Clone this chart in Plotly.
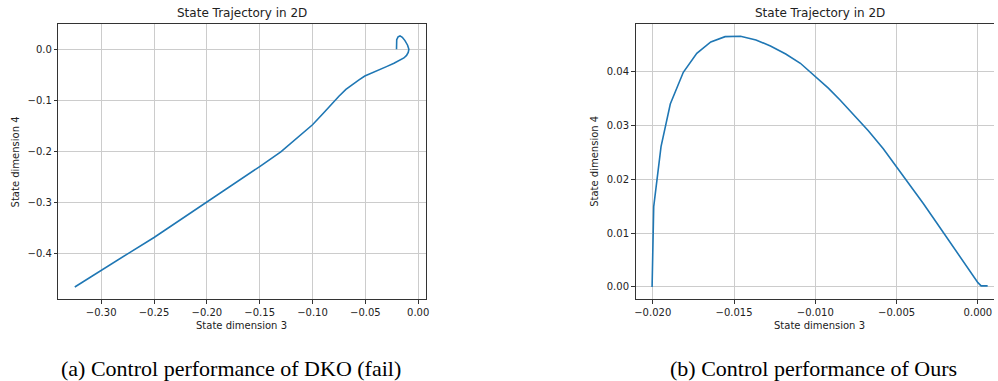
import plotly.graph_objects as go

W, H = 998, 381

# ---- data: (a) DKO (fail) ----
dko_x = [-0.0205, -0.0207, -0.0203, -0.0190, -0.0172, -0.0150, -0.0125, -0.0100, -0.0088,
         -0.0094, -0.0110, -0.0135, -0.0170, -0.0229, -0.0300, -0.0370, -0.0450, -0.0505,
         -0.0560, -0.0620, -0.0684, -0.0750, -0.0810, -0.0900, -0.1000, -0.1150, -0.1300,
         -0.1500, -0.1750, -0.2000, -0.2250, -0.2500, -0.2750, -0.3000, -0.3250]
dko_y = [0.0000, 0.0100, 0.0190, 0.0245, 0.0262, 0.0235, 0.0170, 0.0080, 0.0000,
         -0.0060, -0.0120, -0.0170, -0.0215, -0.0275, -0.0340, -0.0400, -0.0470, -0.0524,
         -0.0600, -0.0690, -0.0785, -0.0920, -0.1060, -0.1260, -0.1480, -0.1740, -0.2010,
         -0.2300, -0.2650, -0.2990, -0.3340, -0.3690, -0.4010, -0.4330, -0.4660]

# ---- data: (b) Ours ----
ours_x = [-0.02004, -0.01994, -0.01949, -0.01892, -0.01812, -0.01729, -0.01643, -0.01555,
          -0.01460, -0.01365, -0.01276, -0.01182, -0.01092, -0.01000, -0.00920, -0.00848,
          -0.00760, -0.00674, -0.00582, -0.00500, -0.00419, -0.00337, -0.00255, -0.00174,
          -0.00087, 0.00000, 0.00020, 0.00060]
ours_y = [0.00000, 0.01494, 0.02610, 0.03405, 0.03994, 0.04348, 0.04558, 0.04657,
          0.04664, 0.04595, 0.04484, 0.04335, 0.04162, 0.03913, 0.03700, 0.03479,
          0.03200, 0.02908, 0.02570, 0.02238, 0.01898, 0.01557, 0.01200, 0.00843,
          0.00460, 0.00080, 0.00020, 0.00020]

# ---- ticks ----
a_xticks = [-0.30, -0.25, -0.20, -0.15, -0.10, -0.05, 0.00]
a_xlabels = ["\u22120.30", "\u22120.25", "\u22120.20", "\u22120.15", "\u22120.10", "\u22120.05", "0.00"]
a_yticks = [0.0, -0.1, -0.2, -0.3, -0.4]
a_ylabels = ["0.0", "\u22120.1", "\u22120.2", "\u22120.3", "\u22120.4"]
b_xticks = [-0.020, -0.015, -0.010, -0.005, 0.000]
b_xlabels = ["\u22120.020", "\u22120.015", "\u22120.010", "\u22120.005", "0.000"]
b_yticks = [0.00, 0.01, 0.02, 0.03, 0.04]
b_ylabels = ["0.00", "0.01", "0.02", "0.03", "0.04"]

title_text = "State Trajectory in 2D"
xlab = "State dimension 3"
ylab = "State dimension 4"
cap_a = "(a) Control performance of DKO (fail)"
cap_b = "(b) Control performance of Ours"

LINE = "#1f77b4"
FONT = "DejaVu Sans"
TXT = "#222222"

fig = go.Figure()
fig.add_trace(go.Scatter(x=dko_x, y=dko_y, mode="lines", line=dict(color=LINE, width=1.6),
                         xaxis="x", yaxis="y", showlegend=False))
fig.add_trace(go.Scatter(x=ours_x, y=ours_y, mode="lines", line=dict(color=LINE, width=1.6),
                         xaxis="x2", yaxis="y2", showlegend=False))

def px_x(p):
    return p / W

def px_y(p):
    return 1 - p / H

top, bot = 24.3, 299.3
ydom = [px_y(bot), px_y(top)]

axcommon = dict(showgrid=True, gridcolor="#cccccc", gridwidth=1, zeroline=False,
                showline=True, linecolor="#333333", linewidth=1,
                ticks="outside", ticklen=3.5, tickcolor="#333333", tickwidth=1,
                tickfont=dict(family=FONT, size=10, color=TXT), tickmode="array")

fig.update_layout(
    width=W, height=H, margin=dict(l=0, r=0, t=0, b=0),
    paper_bgcolor="white", plot_bgcolor="white",
    xaxis=dict(domain=[px_x(57.7), px_x(426.7)], range=[-0.3405, 0.0070], anchor="y",
               tickvals=a_xticks, ticktext=a_xlabels, mirror=True, **axcommon),
    yaxis=dict(domain=ydom, range=[-0.4902, 0.0490], anchor="x",
               tickvals=a_yticks, ticktext=a_ylabels, mirror=True, **axcommon),
    xaxis2=dict(domain=[px_x(637.7), 1.0], range=[-0.02106, 0.00099], anchor="y2",
                tickvals=b_xticks, ticktext=b_xlabels, mirror=True, **axcommon),
    yaxis2=dict(domain=ydom, range=[-0.00229, 0.04887], anchor="x2",
                tickvals=b_yticks, ticktext=b_ylabels, mirror=False, **axcommon),
)

ann = []
def text(x, y, s, size, family=FONT, angle=0, color=TXT):
    ann.append(dict(x=px_x(x), y=px_y(y), xref="paper", yref="paper", text=s,
                    showarrow=False, xanchor="center", yanchor="middle",
                    textangle=angle, font=dict(family=family, size=size, color=color)))

text(242.2, 13, title_text, 12)
text(822.8, 13, title_text, 12)
text(242.2, 325, xlab, 10)
text(822.8, 325, xlab, 10)
text(14.7, 161.8, ylab, 10, angle=-90)
text(597, 161.8, ylab, 10, angle=-90)
text(231.5, 368, cap_a, 22, family="Liberation Serif", color="#000000")
text(816.3, 368, cap_b, 22, family="Liberation Serif", color="#000000")
fig.update_layout(annotations=ann)

fig.write_html("out.html")
